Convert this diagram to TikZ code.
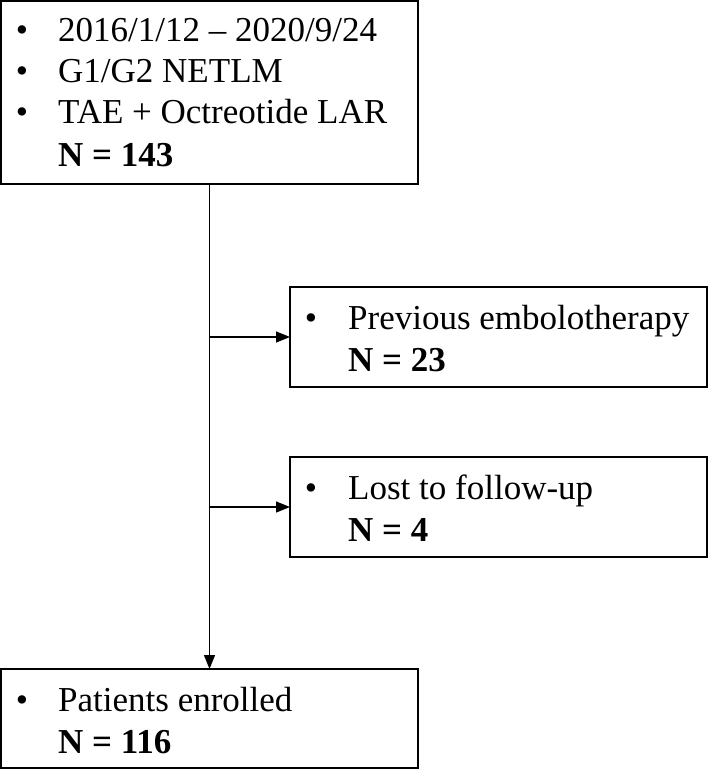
\documentclass[tikz,border=0pt]{standalone}
\usepackage{fontspec}
\setmainfont{Liberation Serif}
\usetikzlibrary{arrows.meta}
\begin{document}
\begin{tikzpicture}[x=1pt,y=-1pt,
  box/.style={draw,line width=1.8pt,inner sep=0pt,outer sep=0pt,anchor=north west},
  txt/.style={anchor=base west,inner sep=0pt,font=\fontsize{35}{42}\selectfont},
  bul/.style={anchor=base,inner sep=0pt,font=\fontsize{35}{42}\selectfont},
  conn/.style={line width=1.2pt},
  arr/.style={conn,-{Triangle[length=14pt,width=11pt]}}]
\useasboundingbox (0,0) rectangle (709,770);
% boxes
\node[box,minimum width=417pt,minimum height=183pt] (topbox) at (1,1) {};
\node[box,minimum width=417pt,minimum height=100pt] (prevbox) at (290,287) {};
\node[box,minimum width=417pt,minimum height=100pt] (lostbox) at (290,457) {};
\node[box,minimum width=417pt,minimum height=99pt] (endbox) at (1,669) {};
% top box text
\node[bul] (b1) at (22,42) {•};
\node[txt] (t1) at (58,42) {2016/1/12 – 2020/9/24};
\node[bul] (b2) at (22,83) {•};
\node[txt] (t2) at (58,83) {G1/G2 NETLM};
\node[bul] (b3) at (22,124) {•};
\node[txt] (t3) at (58,124) {TAE + Octreotide LAR};
\node[txt] (t4) at (58,167) {\textbf{N = 143}};
% previous embolotherapy
\node[bul] (b5) at (311,329) {•};
\node[txt] (t5) at (348,329) {Previous embolotherapy};
\node[txt] (t6) at (348,371) {\textbf{N = 23}};
% lost to follow-up
\node[bul] (b7) at (311,499) {•};
\node[txt] (t7) at (348,499) {Lost to follow-up};
\node[txt] (t8) at (348,541) {\textbf{N = 4}};
% patients enrolled
\node[bul] (b9) at (22,711) {•};
\node[txt] (t9) at (58,711) {Patients enrolled};
\node[txt] (t10) at (58,753) {\textbf{N = 116}};
% connectors
\draw[arr] (topbox.south) -- (endbox.north);
\coordinate (j1) at (topbox.south |- prevbox.west);
\coordinate (j2) at (topbox.south |- lostbox.west);
\draw[arr] (j1) -- (prevbox.west);
\draw[arr] (j2) -- (lostbox.west);
\end{tikzpicture}
\end{document}
